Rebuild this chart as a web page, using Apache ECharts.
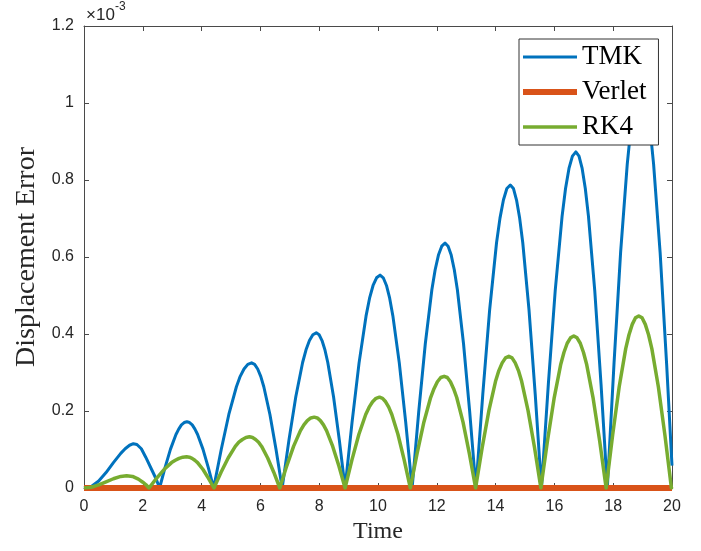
<!DOCTYPE html>
<html>
<head>
<meta charset="utf-8">
<script src="https://cdn.jsdelivr.net/npm/echarts@6/dist/echarts.min.js"></script>
<style>html,body{margin:0;padding:0;background:#fff}#chart{width:701px;height:551px}</style>
</head>
<body>
<div id="chart"></div>
<script>
// Values in units of 1e-3 (axis exponent label "×10^-3")
const xTicks = [0, 2, 4, 6, 8, 10, 12, 14, 16, 18, 20];
const yTicks = [0, 0.2, 0.4, 0.6, 0.8, 1, 1.2];
const seriesNames = ['TMK', 'Verlet', 'RK4'];

const tmkTime = [
  0, 0.25, 0.5, 0.75, 1.0, 1.25, 1.4, 1.55, 1.68, 1.8, 1.95, 2.1, 2.3, 2.45, 2.57,
  2.756, 2.942, 3.128, 3.221, 3.314, 3.407, 3.5, 3.591, 3.682, 3.773, 3.864, 4.046, 4.228, 4.41,
  4.668, 4.926, 5.184, 5.313, 5.442, 5.571, 5.7, 5.804, 5.908, 6.012, 6.116, 6.324, 6.532, 6.74,
  6.972, 7.204, 7.436, 7.552, 7.668, 7.784, 7.9, 7.998, 8.096, 8.194, 8.292, 8.488, 8.684, 8.88,
  9.118, 9.356, 9.594, 9.713, 9.832, 9.951, 10.07, 10.179, 10.288, 10.397, 10.506, 10.724, 10.942, 11.16,
  11.384, 11.608, 11.832, 11.944, 12.056, 12.168, 12.28, 12.385, 12.49, 12.595, 12.70, 12.91, 13.12, 13.33,
  13.564, 13.798, 14.032, 14.149, 14.266, 14.383, 14.5, 14.606, 14.712, 14.818, 14.924, 15.136, 15.348, 15.56,
  15.794, 16.028, 16.262, 16.379, 16.496, 16.613, 16.73, 16.837, 16.944, 17.051, 17.158, 17.372, 17.586, 17.8,
  18.026, 18.252, 18.478, 18.591, 18.704, 18.817, 18.93, 19.041, 19.152, 19.263, 19.374, 19.596, 19.818, 20
];
const tmkError = [
  0, 0.004, 0.018, 0.04, 0.066, 0.09, 0.102, 0.111, 0.115, 0.113, 0.102, 0.08, 0.048, 0.024, 0,
  0.053, 0.101, 0.139, 0.153, 0.164, 0.170, 0.172, 0.170, 0.164, 0.153, 0.139, 0.101, 0.053, 0,
  0.100, 0.191, 0.263, 0.290, 0.309, 0.321, 0.325, 0.321, 0.309, 0.290, 0.263, 0.191, 0.100, 0,
  0.125, 0.237, 0.326, 0.359, 0.383, 0.398, 0.403, 0.398, 0.383, 0.359, 0.326, 0.237, 0.125, 0,
  0.171, 0.325, 0.447, 0.493, 0.526, 0.546, 0.553, 0.546, 0.526, 0.493, 0.447, 0.325, 0.171, 0,
  0.197, 0.374, 0.515, 0.567, 0.605, 0.628, 0.636, 0.628, 0.605, 0.567, 0.515, 0.374, 0.197, 0,
  0.243, 0.463, 0.637, 0.701, 0.748, 0.778, 0.787, 0.778, 0.748, 0.701, 0.637, 0.463, 0.243, 0,
  0.270, 0.513, 0.706, 0.778, 0.830, 0.862, 0.873, 0.862, 0.830, 0.778, 0.706, 0.513, 0.270, 0,
  0.321, 0.612, 0.841, 0.927, 0.989, 1.028, 1.04, 1.028, 0.989, 0.927, 0.841, 0.612, 0.321, 0.058
];

const verletTime = [0, 5, 10, 15, 20];
const verletError = [0, 0, 0, 0, 0];

const rk4Time = [
  0, 0.25, 0.5, 0.75, 1.0, 1.25, 1.45, 1.65, 1.85, 2.0, 2.1, 2.21,
  2.466, 2.722, 2.978, 3.106, 3.234, 3.362, 3.49, 3.583, 3.676, 3.769, 3.862, 4.048, 4.234, 4.42,
  4.662, 4.904, 5.146, 5.267, 5.388, 5.509, 5.63, 5.733, 5.836, 5.939, 6.042, 6.248, 6.454, 6.66,
  6.894, 7.128, 7.362, 7.479, 7.596, 7.713, 7.83, 7.935, 8.04, 8.145, 8.25, 8.46, 8.67, 8.88,
  9.114, 9.348, 9.582, 9.699, 9.816, 9.933, 10.05, 10.155, 10.26, 10.365, 10.47, 10.68, 10.89, 11.1,
  11.33, 11.56, 11.79, 11.905, 12.02, 12.135, 12.25, 12.357, 12.464, 12.571, 12.678, 12.892, 13.106, 13.32,
  13.546, 13.772, 13.998, 14.111, 14.224, 14.337, 14.45, 14.559, 14.668, 14.777, 14.886, 15.104, 15.322, 15.54,
  15.764, 15.988, 16.212, 16.324, 16.436, 16.548, 16.66, 16.77, 16.88, 16.99, 17.1, 17.32, 17.54, 17.76,
  17.982, 18.204, 18.426, 18.537, 18.648, 18.759, 18.87, 18.981, 19.092, 19.203, 19.314, 19.536, 19.758, 19.98, 20
];
const rk4Error = [
  0, 0.002, 0.008, 0.016, 0.024, 0.030, 0.032, 0.030, 0.023, 0.015, 0.009, 0,
  0.025, 0.048, 0.066, 0.072, 0.077, 0.080, 0.081, 0.080, 0.077, 0.072, 0.066, 0.048, 0.025, 0,
  0.041, 0.078, 0.108, 0.119, 0.126, 0.131, 0.133, 0.131, 0.126, 0.119, 0.108, 0.078, 0.041, 0,
  0.057, 0.108, 0.149, 0.164, 0.175, 0.182, 0.184, 0.182, 0.175, 0.164, 0.149, 0.108, 0.057, 0,
  0.073, 0.139, 0.191, 0.210, 0.224, 0.233, 0.236, 0.233, 0.224, 0.210, 0.191, 0.139, 0.073, 0,
  0.090, 0.171, 0.235, 0.258, 0.276, 0.287, 0.290, 0.287, 0.276, 0.258, 0.235, 0.171, 0.090, 0,
  0.106, 0.201, 0.277, 0.305, 0.325, 0.338, 0.342, 0.338, 0.325, 0.305, 0.277, 0.201, 0.106, 0,
  0.122, 0.232, 0.320, 0.352, 0.376, 0.390, 0.395, 0.390, 0.376, 0.352, 0.320, 0.232, 0.122, 0,
  0.138, 0.263, 0.362, 0.398, 0.425, 0.442, 0.447, 0.442, 0.425, 0.398, 0.362, 0.263, 0.138, 0, 0.003
];

const colors = ['#0072BD', '#D95319', '#77AC30'];
const lineWidths = [3, 6, 3.5];

function pairs(xs, ys) { return xs.map((x, i) => [x, ys[i]]); }

const axisColor = '#4a4a4a';
const labelColor = '#262626';
const sans = 'Liberation Sans, Arial, sans-serif';
const serif = 'Liberation Serif, Times New Roman, serif';

const chart = echarts.init(document.getElementById('chart'), null, {renderer: 'canvas'});
const xCommon = {
  type: 'value', min: xTicks[0], max: xTicks[xTicks.length - 1], interval: xTicks[1] - xTicks[0],
  axisLine: {show: true, onZero: false, lineStyle: {color: axisColor, width: 1}},
  axisTick: {show: true, inside: true, length: 5, lineStyle: {color: axisColor}},
  splitLine: {show: false}
};
const yCommon = {
  type: 'value', min: yTicks[0], max: yTicks[yTicks.length - 1], interval: 0.2,
  axisLine: {show: true, onZero: false, lineStyle: {color: axisColor, width: 1}},
  axisTick: {show: true, inside: true, length: 5, lineStyle: {color: axisColor}},
  splitLine: {show: false}
};

const option = {
  animation: false,
  backgroundColor: '#fff',
  grid: {left: 84, right: 29, top: 26, bottom: 63, containLabel: false},
  xAxis: [
    Object.assign({}, xCommon, {
      position: 'bottom',
      name: 'Time', nameLocation: 'middle', nameGap: 30,
      nameTextStyle: {fontFamily: serif, fontSize: 24, color: labelColor},
      axisLabel: {show: true, margin: 11, fontFamily: sans, fontSize: 16, color: labelColor,
        formatter: v => String(v)}
    }),
    Object.assign({}, xCommon, {position: 'top', axisLabel: {show: false}})
  ],
  yAxis: [
    Object.assign({}, yCommon, {
      position: 'left',
      name: 'Displacement Error', nameLocation: 'middle', nameGap: 41,
      nameTextStyle: {fontFamily: serif, fontSize: 28, color: labelColor},
      axisLabel: {show: true, margin: 10, fontFamily: sans, fontSize: 16, color: labelColor,
        formatter: v => String(+v.toFixed(1))}
    }),
    Object.assign({}, yCommon, {position: 'right', axisLabel: {show: false}})
  ],
  legend: {
    orient: 'vertical', left: 519, top: 39,
    data: [
      {name: seriesNames[0], icon: 'path://M0,0h54v3h-54z'},
      {name: seriesNames[1], icon: 'path://M0,0h54v6h-54z'},
      {name: seriesNames[2], icon: 'path://M0,0h54v3.5h-54z'}
    ],
    itemWidth: 54, itemHeight: 30, itemGap: 5,
    padding: [3, 12, 3, 4],
    backgroundColor: '#fff', borderColor: '#333', borderWidth: 1, borderRadius: 0,
    textStyle: {fontFamily: serif, fontSize: 27, color: '#000', lineHeight: 30},
    selectedMode: false
  },
  graphic: [
    {type: 'text', left: 86, top: 7, style: {text: '×10', fontFamily: sans, fontSize: 17, fill: labelColor}},
    {type: 'text', left: 115, top: 1, style: {text: '-3', fontFamily: sans, fontSize: 12, fill: labelColor}}
  ],
  series: [
    {name: seriesNames[0], type: 'line', data: pairs(tmkTime, tmkError), showSymbol: false, symbol: 'none',
      lineStyle: {width: lineWidths[0], color: colors[0], join: 'round'}, itemStyle: {color: colors[0]}, z: 2},
    {name: seriesNames[1], type: 'line', data: pairs(verletTime, verletError), showSymbol: false, symbol: 'none',
      lineStyle: {width: lineWidths[1], color: colors[1], join: 'round'}, itemStyle: {color: colors[1]}, z: 3},
    {name: seriesNames[2], type: 'line', data: pairs(rk4Time, rk4Error), showSymbol: false, symbol: 'none',
      lineStyle: {width: lineWidths[2], color: colors[2], join: 'round'}, itemStyle: {color: colors[2]}, z: 4}
  ]
};
chart.setOption(option);
</script>
</body>
</html>
